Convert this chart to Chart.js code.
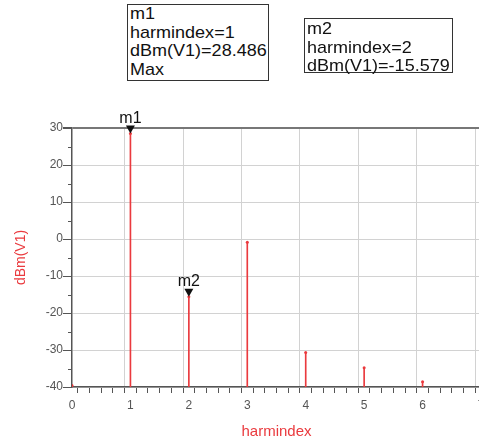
<!DOCTYPE html>
<html>
<head>
<meta charset="utf-8">
<script src="https://cdn.jsdelivr.net/npm/chart.js@4/dist/chart.umd.min.js"></script>
<style>
	body { margin: 0; overflow: hidden; background: #fff; }
	#wrap { position: absolute; left: 0; top: 0; width: 490px; height: 442px; }
	.marker-box {
		position: absolute;
		border: 1px solid #333;
		background: #fff;
		font-family: "Liberation Sans", Arial, sans-serif;
		font-size: 17px;
		line-height: 18.5px;
		color: #111;
		padding: 0 0 0 2px;
		box-sizing: border-box;
		white-space: nowrap;
	}
	.marker-box span { display: inline-block; transform: scaleX(1.06); transform-origin: left; }
</style>
</head>
<body>
<div id="wrap"><canvas id="myChart"></canvas></div>
<div class="marker-box" id="box1" style="left:127px; top:4px; width:142px; height:77px;"></div>
<div class="marker-box" id="box2" style="left:304px; top:18px; width:149px; height:55px; padding-top:1px;"></div>

<script>
// harmonic balance spectrum of V1
const harmIndex = [0, 1, 2, 3, 4, 5, 6];
const dBmV1 = [-39.6, 28.486, -15.579, -0.9, -30.7, -34.8, -38.6];
const yTicks = [-40, -30, -20, -10, 0, 10, 20, 30];
const xTicks = [0, 1, 2, 3, 4, 5, 6, 7];

// markers placed on the trace
const markerNames = ["m1", "m2"];
const markerIdx = [1, 2];
const markerNotes = [["Max"], []];

const floor = yTicks[0];
const red = "#ea3a3e";

window.addEventListener("load", setup);

function isInt(v) {
	return Math.abs(v - Math.round(v)) < 1e-6;
}

// readout boxes for each marker
function fillBoxes() {
	markerNames.forEach((name, k) => {
		const i = markerIdx[k];
		const lines = [name, "harmindex=" + harmIndex[i], "dBm(V1)=" + dBmV1[i].toFixed(3)].concat(markerNotes[k]);
		document.getElementById("box" + (k + 1)).innerHTML = lines.map((l) => "<span>" + l + "</span>").join("<br>");
	});
}

// minor ticks on the y axis (every 5)
const minorTicks = {
	id: "minorTicks",
	afterDraw(chart) {
		const { ctx, scales } = chart;
		const y = scales.y;
		const left = chart.chartArea.left;
		ctx.save();
		ctx.strokeStyle = "#555";
		ctx.lineWidth = 1;
		for (let v = floor + 5; v < yTicks[yTicks.length - 1]; v += 10) {
			const py = Math.round(y.getPixelForValue(v)) + 0.5;
			ctx.beginPath();
			ctx.moveTo(left - 4, py);
			ctx.lineTo(left, py);
			ctx.stroke();
		}
		ctx.restore();
	},
};

// down-pointing marker triangles with their names
const markers = {
	id: "markers",
	afterDatasetsDraw(chart) {
		const { ctx, scales } = chart;
		ctx.save();
		markerIdx.forEach((i, k) => {
			const px = scales.x.getPixelForValue(harmIndex[i]);
			const py = scales.y.getPixelForValue(dBmV1[i]);
			ctx.fillStyle = "#111";
			ctx.beginPath();
			ctx.moveTo(px, py);
			ctx.lineTo(px - 4.5, py - 8);
			ctx.lineTo(px + 4.5, py - 8);
			ctx.closePath();
			ctx.fill();
			ctx.font = "16px 'Liberation Sans', Arial, sans-serif";
			ctx.textAlign = "center";
			ctx.textBaseline = "alphabetic";
			ctx.fillText(markerNames[k], px, py - 11);
		});
		ctx.restore();
	},
};

function setup() {
	fillBoxes();
	const ctx = document.getElementById("myChart").getContext("2d");
	const chart = new Chart(ctx, {
		data: {
			datasets: [
				{
					type: "bar",
					data: harmIndex.map((x, i) => ({ x: x, y: [floor, dBmV1[i]] })),
					backgroundColor: red,
					barThickness: 1,
				},
				{
					type: "scatter",
					data: harmIndex.map((x, i) => ({ x: x, y: dBmV1[i] })),
					backgroundColor: red,
					borderColor: red,
					pointRadius: 1.5,
					pointBorderWidth: 0,
				},
			],
		},
		options: {
			responsive: true,
			maintainAspectRatio: false,
			animation: false,
			layout: { padding: { top: 128, right: 9, left: 0, bottom: 0 } },
			plugins: {
				legend: { display: false },
				tooltip: { enabled: false },
			},
			scales: {
				x: {
					type: "linear",
					offset: false,
					min: xTicks[0],
					max: xTicks[xTicks.length - 1],
					afterFit: (scale) => {
						scale.height = 55;
					},
					ticks: {
						stepSize: 0.2,
						autoSkip: false,
						maxRotation: 0,
						padding: 5,
						color: "#555",
						font: { family: "'Liberation Sans', Arial, sans-serif", size: 12 },
						callback: (v) => (isInt(v) && xTicks.includes(Math.round(v)) ? String(Math.round(v)) : ""),
					},
					grid: {
						color: (c) => (c.tick && isInt(c.tick.value) ? "#d2d2d2" : "rgba(0,0,0,0)"),
						tickColor: "#555",
						tickLength: 6,
					},
					border: { color: "#555", width: 1.5 },
					title: {
						display: true,
						text: "harmindex",
						color: red,
						font: { family: "'Liberation Sans', Arial, sans-serif", size: 15 },
						padding: { top: 0, bottom: 1 },
					},
				},
				y: {
					min: floor,
					max: yTicks[yTicks.length - 1],
					afterFit: (scale) => {
						scale.width = 72;
					},
					ticks: {
						stepSize: 10,
						padding: 0,
						color: "#555",
						font: { family: "'Liberation Sans', Arial, sans-serif", size: 12 },
					},
					grid: {
						color: (c) => (c.tick && c.tick.value === yTicks[yTicks.length - 1] ? "#777" : "#d2d2d2"),
						lineWidth: (c) => (c.tick && c.tick.value === yTicks[yTicks.length - 1] ? 2 : 1),
						tickColor: "#555",
						tickLength: 9,
					},
					border: { color: "#555", width: 1.5 },
					title: {
						display: true,
						text: "dBm(V1)",
						color: red,
						font: { family: "'Liberation Sans', Arial, sans-serif", size: 14 },
						padding: { top: 13, bottom: 0 },
					},
				},
			},
		},
		plugins: [minorTicks, markers],
	});
}
</script>
</body>
</html>
